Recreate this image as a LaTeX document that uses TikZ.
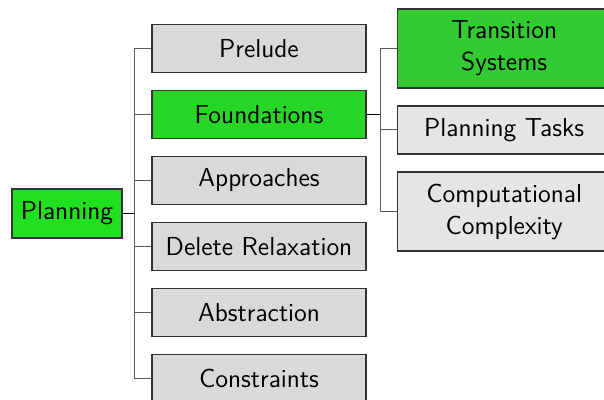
\documentclass[tikz,border=0pt]{standalone}
\usepackage{tikz}
\usetikzlibrary{positioning}

\definecolor{rootgreen}{RGB}{32,224,32}
\definecolor{pickgreen}{RGB}{40,214,40}
\definecolor{subgreen}{RGB}{50,204,50}

\begin{document}
\begin{tikzpicture}[x=1pt, y=1pt, node distance=8.4pt,
    topic/.style={rectangle, draw=black!80, line width=0.6pt, fill=black!15, minimum width=107pt, minimum height=24pt, inner sep=2pt, font=\sffamily\fontsize{13}{16}\selectfont, align=center},
    subtopic/.style={topic, fill=black!10},
    twoline/.style={minimum height=39.5pt},
    branch/.style={draw=black!65, line width=0.5pt},
    stub/.style={draw=black, line width=0.8pt}]
    \useasboundingbox (0,0) rectangle (302,-200);

    \node [topic, fill=rootgreen, minimum width=55pt, minimum height=24.5pt] (planning) at (33.5,-106.75) {Planning};

    \node [topic] (prelude) at (129.5,-24.25) {Prelude};
    \node [topic, below=of prelude, fill=pickgreen] (found) {Foundations};
    \node [topic, below=of found] (approach) {Approaches};
    \node [topic, below=of approach] (delrelax) {Delete Relaxation};
    \node [topic, below=of delrelax] (abstract) {Abstraction};
    \node [topic, below=of abstract] (constr) {Constraints};

    \node [subtopic, twoline, fill=subgreen, right=15pt of prelude] (transsys) {Transition\\Systems};
    \node [subtopic, below=of transsys] (tasks) {Planning Tasks};
    \node [subtopic, twoline, below=of tasks] (complexity) {Computational\\Complexity};

    % fork from the root
    \draw [stub] (planning.east) -- ++(6,0) coordinate (rootfork);
    \foreach \child in {prelude, found, approach, delrelax, abstract, constr}
        \path [branch] (rootfork) |- (\child.west);

    % fork from foundations
    \draw [stub] (found.east) -- ++(7,0) coordinate (subfork);
    \foreach \child in {transsys, tasks, complexity}
        \path [branch] (subfork) |- (\child.west);
\end{tikzpicture}
\end{document}
